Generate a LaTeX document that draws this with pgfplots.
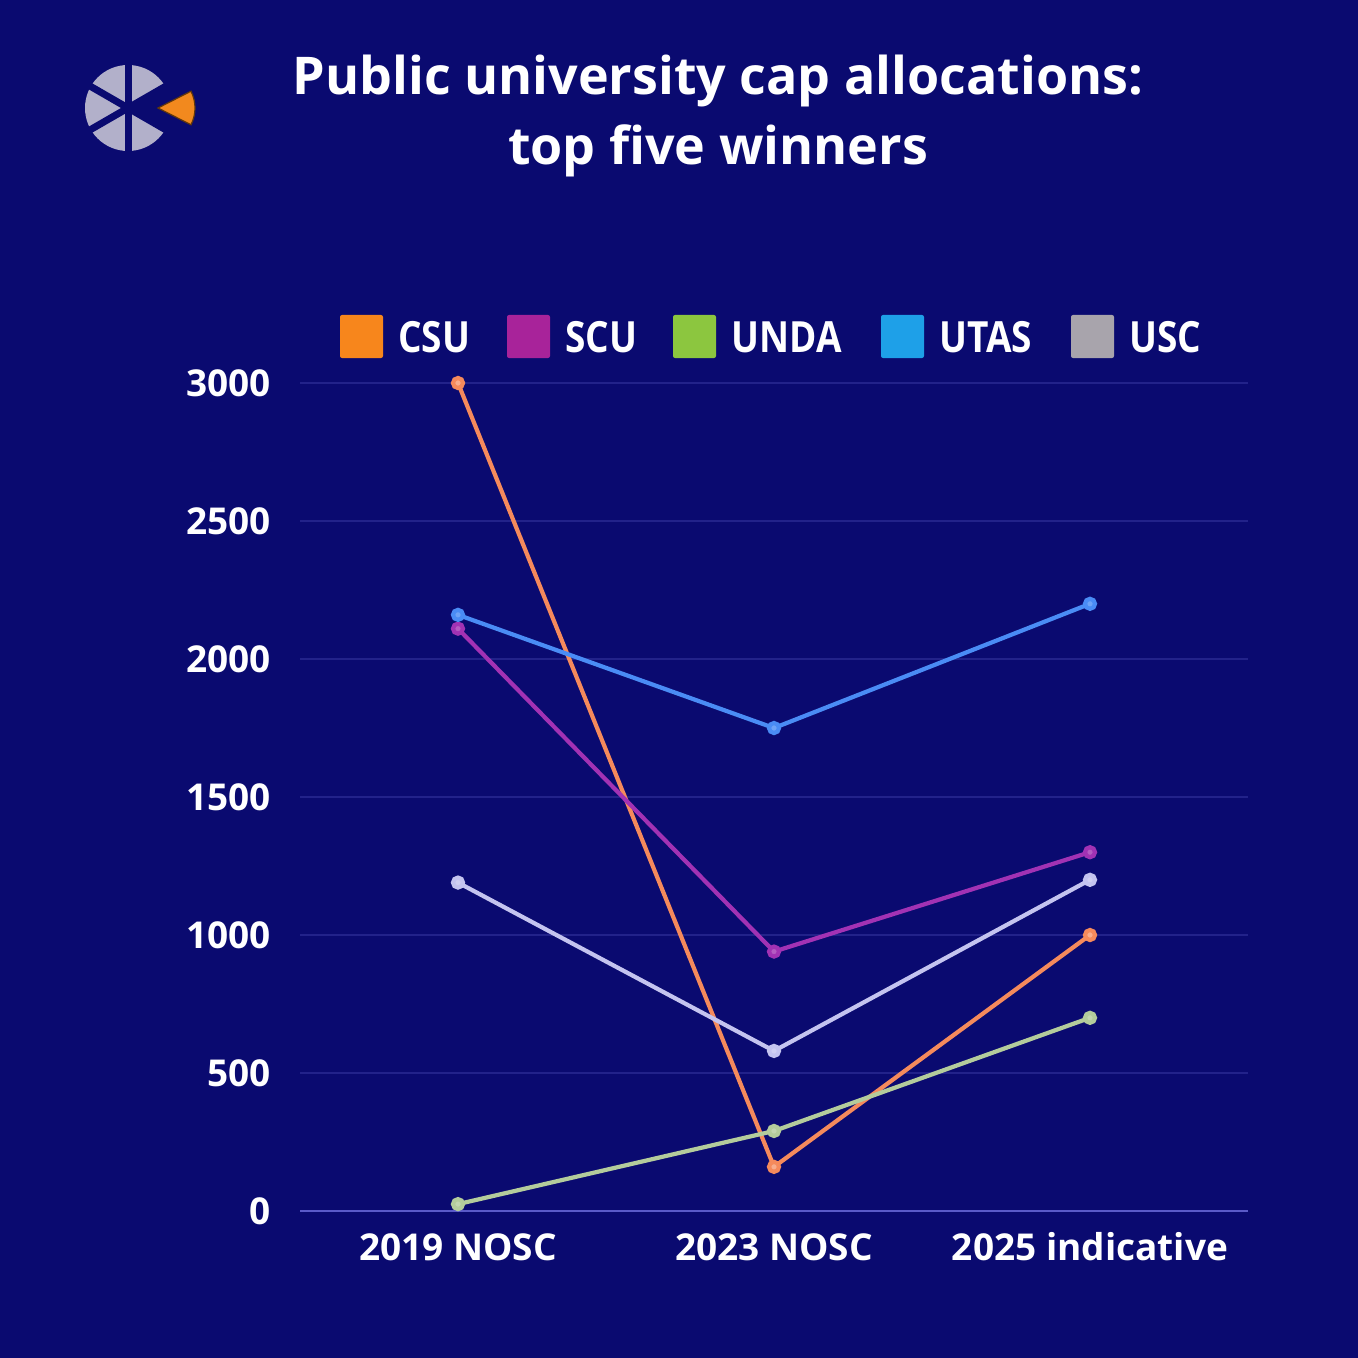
\documentclass[border=0pt]{standalone}
\usepackage{fontspec}
\setmainfont{Open Sans}
\usepackage{pgfplots}
\pgfplotsset{compat=1.18}

\definecolor{bg}{HTML}{0A0A70}
\definecolor{gridc}{HTML}{22228A}
\definecolor{axisc}{HTML}{5A5AC8}
% legend swatches
\definecolor{csuL}{HTML}{F7861C}
\definecolor{scuL}{HTML}{A8239A}
\definecolor{undaL}{HTML}{8CC63F}
\definecolor{utasL}{HTML}{1EA0E8}
\definecolor{uscL}{HTML}{A8A4AC}
% line colours (lighter, glowing)
\definecolor{csu}{HTML}{F58A5C}
\definecolor{scu}{HTML}{A232B4}
\definecolor{unda}{HTML}{B4CC9C}
\definecolor{utas}{HTML}{4A8CF5}
\definecolor{usc}{HTML}{C4C4F0}
\definecolor{logogray}{HTML}{B2B0CA}
\definecolor{logoorange}{HTML}{F2891E}

\begin{document}
\begin{tikzpicture}
\fill[bg] (0,0) rectangle (679pt,-679pt);
\useasboundingbox (0,0) rectangle (679pt,-679pt);

% title
\node[text=white, align=center, font=\bfseries\fontsize{26}{35}\selectfont]
  at (359pt,-58pt) {Public university cap allocations:\\top five winners};

% logo (pixel coords, 1px = 0.5pt)
\begin{scope}[x=0.5pt,y=-0.5pt]
  \fill[logogray] (128,108) circle (43);
  \fill[bg] (128,108) -- ++(30:50) arc[start angle=30,end angle=-30,radius=50] -- cycle;
  \draw[bg,line width=3.5pt] (128,60) -- (128,156);
  \draw[bg,line width=3.5pt] (128,108) -- ++(150:50);
  \draw[bg,line width=3.5pt] (128,108) -- ++(210:50);
  \draw[bg,line width=3.5pt] (128,108) -- ++(30:50);
  \draw[bg,line width=3.5pt] (128,108) -- ++(-30:50);
  \fill[logoorange, draw=black!60!logoorange, line width=0.6pt]
    (158,108) -- ++(-27:37) arc[start angle=-27,end angle=27,radius=37] -- cycle;
\end{scope}

% legend
\begin{scope}[x=0.5pt,y=-0.5pt]
  \foreach \sx/\tx/\c/\lab in {340/398/csuL/CSU, 507/565/scuL/SCU, 673/731/undaL/UNDA, 881/939/utasL/UTAS, 1071/1129/uscL/USC}{
    \fill[\c, rounded corners=1pt] (\sx,315) rectangle ++(43,43);
    \node[anchor=west, inner sep=0pt, text=white, xscale=0.86,
          font=\bfseries\fontsize{21.5}{21.5}\selectfont] at (\tx,337) {\lab};
  }
\end{scope}

\begin{axis}[
  at={(150pt,-605.5pt)}, anchor=south west,
  scale only axis,
  width=474pt, height=414pt,
  xmin=-0.5, xmax=2.5,
  ymin=0, ymax=3000,
  xtick={0,1,2},
  xticklabels={2019 NOSC, 2023 NOSC, 2025 indicative},
  ytick={0,500,...,3000},
  ymajorgrids,
  grid style={gridc, line width=0.6pt},
  axis line style={draw=none},
  major tick length=0pt,
  /pgf/number format/assume math mode=true,
  /pgf/number format/1000 sep={},
  tick label style={text=white, font=\bfseries\fontsize{18.5}{18.5}\selectfont},
  xticklabel style={yshift=-7pt, text height=14pt, text depth=4pt},
  yticklabel style={xshift=-11pt},
  clip=false,
  every axis plot/.append style={line width=2.1pt, mark=*, mark size=2.5pt},
]
\draw[axisc, line width=0.8pt] (axis cs:-0.5,0) -- (axis cs:2.5,0);

\addplot[csu, mark options={fill=csu!70!white}] coordinates {(0,3000) (1,160) (2,1000)};
\addplot[scu, mark options={fill=scu!80!white}] coordinates {(0,2110) (1,940) (2,1300)};
\addplot[unda, mark options={fill=unda!80!white}] coordinates {(0,25) (1,290) (2,700)};
\addplot[utas, mark options={fill=utas!80!white}] coordinates {(0,2160) (1,1750) (2,2200)};
\addplot[usc, mark options={fill=usc!80!white}] coordinates {(0,1190) (1,580) (2,1200)};
\end{axis}
\end{tikzpicture}
\end{document}
